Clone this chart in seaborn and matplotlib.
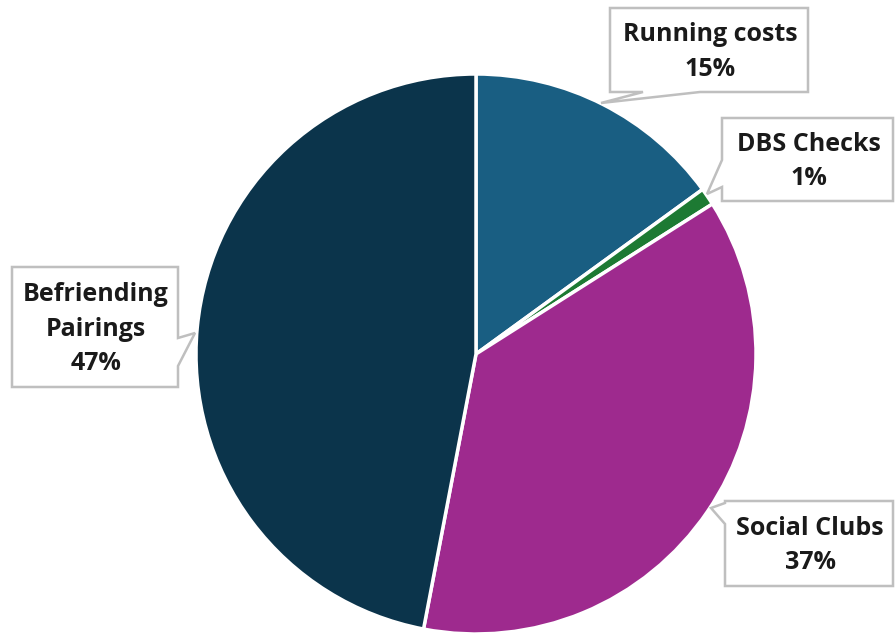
import matplotlib
matplotlib.use("Agg")
import matplotlib.pyplot as plt
import seaborn as sns
from matplotlib.patches import Polygon

# ---- data ----
categories = ["Running costs", "DBS Checks", "Social Clubs", "Befriending\nPairings"]
values = [15, 1, 37, 47]
colors = ["#195e82", "#1d7a33", "#9e2a8e", "#0b344b"]

sns.set_theme(style="white")
plt.rcParams["font.family"] = ["Open Sans", "DejaVu Sans"]

W, H = 896, 635
fig = plt.figure(figsize=(W / 100, H / 100), dpi=100)
fig.patch.set_facecolor("white")

# pie axes: centre (476, 354) px from top, radius 280 px
cx, cy, r = 476, 354, 280
ax = fig.add_axes([(cx - r) / W, (H - cy - r) / H, 2 * r / W, 2 * r / H])
ax.pie(values, colors=colors, startangle=90, counterclock=False, radius=1,
       wedgeprops=dict(edgecolor="white", linewidth=2.5))
ax.set_xlim(-1, 1)
ax.set_ylim(-1, 1)
ax.set_aspect("equal")
ax.axis("off")

# ---- callout labels (layout in pixel coords from top-left) ----
labels = [
    dict(box=(610, 8, 808, 92), side="bottom", rng=(643, 700), tip=(601, 103)),
    dict(box=(722, 118, 893, 201), side="left", rng=(160, 187), tip=(707, 194)),
    dict(box=(725, 501, 893, 586), side="left", rng=(503, 524), tip=(711, 508)),
    dict(box=(12, 267, 178, 387), side="right", rng=(338, 366), tip=(195, 333)),
]


def to_fig(x, y):
    return (x / W, (H - y) / H)


for cat, val, lab in zip(categories, values, labels):
    x0, y0, x1, y1 = lab["box"]
    a, b = lab["rng"]
    tx, ty = lab["tip"]
    if lab["side"] == "bottom":
        pts = [(x0, y0), (x1, y0), (x1, y1), (b, y1), (tx, ty), (a, y1), (x0, y1)]
    elif lab["side"] == "left":
        pts = [(x0, y0), (x1, y0), (x1, y1), (x0, y1), (x0, b), (tx, ty), (x0, a)]
    else:  # right
        pts = [(x0, y0), (x1, y0), (x1, a), (tx, ty), (x1, b), (x1, y1), (x0, y1)]
    poly = Polygon([to_fig(*p) for p in pts], closed=True, transform=fig.transFigure,
                   facecolor="white", edgecolor="#bfbfbf", linewidth=1.8, zorder=5)
    fig.patches.append(poly)
    fx, fy = to_fig((x0 + x1) / 2 + 1, (y0 + y1) / 2 + 2)
    fig.text(fx, fy, f"{cat}\n{val}%", ha="center", va="center", fontsize=18,
             fontweight="bold", color="#1a1a1a", linespacing=1.5, zorder=6)

fig.savefig("out.png", dpi=100, facecolor="white")
